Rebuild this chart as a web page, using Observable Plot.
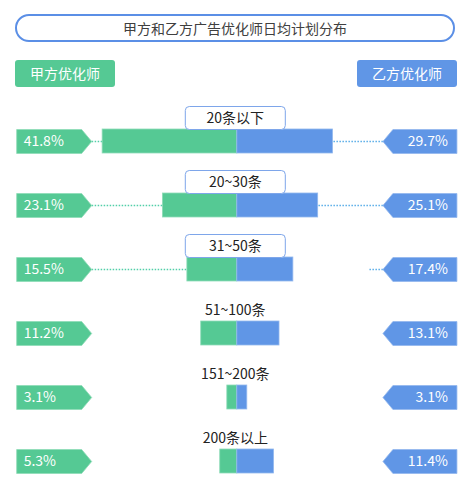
<!DOCTYPE html>
<html><head><meta charset="utf-8">
<script src="https://cdn.jsdelivr.net/npm/d3@7"></script>
<script src="https://cdn.jsdelivr.net/npm/@observablehq/plot@0.6"></script>
<style>
body{margin:0;background:#fff;font-family:"Noto Sans CJK SC","Noto Sans",sans-serif;}
#wrap{position:relative;width:472px;height:479px;overflow:hidden;}
#title{position:absolute;left:15px;top:14px;width:436px;height:24px;border:2px solid #5b8fe6;border-radius:14px;text-align:center;line-height:24px;font-size:14px;color:#404040;}
.leg{position:absolute;top:60px;width:100px;height:27px;border-radius:3px;color:#fff;font-size:14px;line-height:27px;text-align:center;}
#chart{position:absolute;left:0;top:95px;}
</style>
</head><body>
<div id="wrap">
  <div id="title"></div>
  <div class="leg" id="legA" style="left:15px;"></div>
  <div class="leg" id="legB" style="left:357px;"></div>
  <div id="chart"></div>
</div>
<script>
const titleText = "甲方和乙方广告优化师日均计划分布";
const seriesNames = ["甲方优化师", "乙方优化师"];
const categories = ["20条以下", "20~30条", "31~50条", "51~100条", "151~200条", "200条以上"];
const partyA = [41.8, 23.1, 15.5, 11.2, 3.1, 5.3];
const partyB = [29.7, 25.1, 17.4, 13.1, 3.1, 11.4];
const boxedLabel = [true, true, true, false, false, false];
const leftDotTo = [41.8, 23.1, 15.5, null, null, null];
const rightDotTo = [29.7, 25.1, 40.7, null, null, null];

const GREEN = "#55c994", BLUE = "#6096e6";
const tipAt = 45.2; // label tip position in value units

document.getElementById("title").textContent = titleText;
const la = document.getElementById("legA"); la.textContent = seriesNames[0]; la.style.background = GREEN;
const lb = document.getElementById("legB"); lb.textContent = seriesNames[1]; lb.style.background = BLUE;

const rows = categories.map((c, i) => ({cat: c, a: partyA[i], b: partyB[i], boxed: boxedLabel[i], lt: leftDotTo[i], rt: rightDotTo[i]}));

const tipLeft = {draw(ctx) {ctx.moveTo(0, 0); ctx.lineTo(-10, -12); ctx.lineTo(-75, -12); ctx.lineTo(-75, 12); ctx.lineTo(-10, 12); ctx.closePath();}};
const tipRight = {draw(ctx) {ctx.moveTo(0, 0); ctx.lineTo(10, -12); ctx.lineTo(74, -12); ctx.lineTo(74, 12); ctx.lineTo(10, 12); ctx.closePath();}};
function roundRect(w, h, r) {
  return {draw(ctx) {
    const x0 = -w / 2, y0 = -h / 2, x1 = w / 2, y1 = h / 2;
    ctx.moveTo(x0 + r, y0); ctx.lineTo(x1 - r, y0); ctx.arcTo(x1, y0, x1, y0 + r, r);
    ctx.lineTo(x1, y1 - r); ctx.arcTo(x1, y1, x1 - r, y1, r);
    ctx.lineTo(x0 + r, y1); ctx.arcTo(x0, y1, x0, y1 - r, r);
    ctx.lineTo(x0, y0 + r); ctx.arcTo(x0, y0, x0 + r, y0, r); ctx.closePath();
  }};
}
const FONT = "Noto Sans CJK SC";

const chart = Plot.plot({
  width: 472,
  height: 384,
  margin: 0,
  style: {fontFamily: FONT, background: "transparent"},
  x: {domain: [-73.5, 73], range: [0, 472], axis: null},
  y: {domain: categories, range: [34, 378], paddingInner: 0.625, paddingOuter: 0, axis: null},
  marks: [
    Plot.link(rows.filter(d => d.lt != null), {x1: -tipAt, x2: d => -d.lt, y1: "cat", y2: "cat", stroke: "#52cfa8", strokeWidth: 1.5, strokeDasharray: "1.5,1.5"}),
    Plot.link(rows.filter(d => d.rt != null), {x1: tipAt, x2: d => d.rt, y1: "cat", y2: "cat", stroke: "#5aaee8", strokeWidth: 1.5, strokeDasharray: "1.5,1.5"}),
    Plot.barX(rows, {y: "cat", x1: d => -d.a, x2: 0, fill: GREEN, stroke: "#8fdcb8", strokeWidth: 0.8, insetTop: 0, insetBottom: 0}),
    Plot.barX(rows, {y: "cat", x1: 0, x2: d => d.b, fill: BLUE, stroke: "#93b8ee", strokeWidth: 0.8}),
    Plot.dot(rows.filter(d => d.boxed), {x: 0, y: "cat", dx: -2, dy: -23.5, symbol: roundRect(100, 23, 4), fill: "#fff", stroke: "#7ea6ea", strokeWidth: 1}),
    Plot.text(rows, {x: 0, y: "cat", dx: -2, dy: -23, text: "cat", fill: "#222", fontSize: 14, fontFamily: FONT}),
    Plot.dot(rows, {x: -tipAt, y: "cat", symbol: tipLeft, fill: GREEN, stroke: "#8fdcb8", strokeWidth: 0.8}),
    Plot.dot(rows, {x: tipAt, y: "cat", symbol: tipRight, fill: BLUE, stroke: "#93b8ee", strokeWidth: 0.8}),
    Plot.text(rows, {x: -tipAt, y: "cat", dx: -68, text: d => d.a.toFixed(1) + "%", textAnchor: "start", fill: "#fff", fontSize: 14, fontFamily: FONT}),
    Plot.text(rows, {x: tipAt, y: "cat", dx: 65, text: d => d.b.toFixed(1) + "%", textAnchor: "end", fill: "#fff", fontSize: 14, fontFamily: FONT})
  ]
});
document.getElementById("chart").appendChild(chart);
</script>
</body></html>
